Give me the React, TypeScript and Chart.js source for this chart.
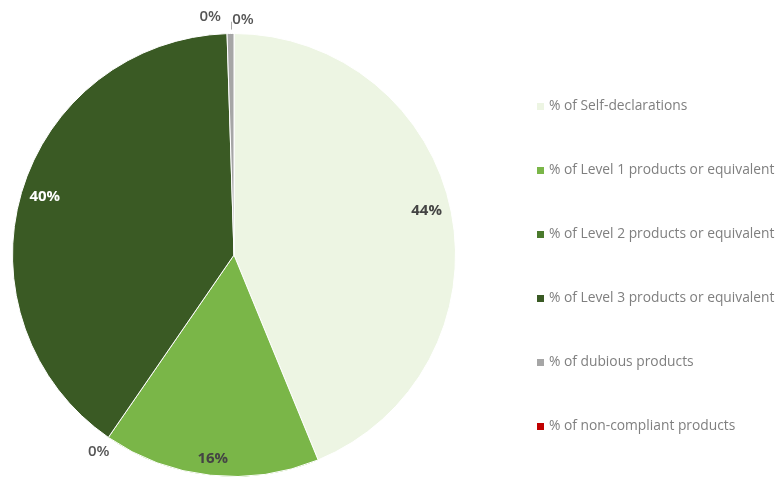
import React, { useEffect, useRef } from "react";
import { Chart, registerables } from "chart.js";

Chart.register(...registerables);

const categories = [
  "% of Self-declarations",
  "% of Level 1 products or equivalent",
  "% of Level 2 products or equivalent",
  "% of Level 3 products or equivalent",
  "% of dubious products",
  "% of non-compliant products",
];
const shares = [43.8, 15.8, 0, 39.9, 0.499, 0];
const sliceColors = ["#edf5e3", "#7ab648", "#4a7a2c", "#3a5a24", "#a6a6a6", "#c00000"];
const labelColors = ["#444444", "#444444", "#555555", "#ffffff", "#555555", "#555555"];
const labelShiftX = [-3, 0, 0, 2, -20, 9];
const labelShiftY = [-6, 6, 0, -2, 0, 3];

const FONT = "'Open Sans', Lato, sans-serif";

const pieLabels = {
  id: "pieLabels",
  afterDatasetsDraw(chart: any) {
    const ctx = chart.ctx;
    const meta = chart.getDatasetMeta(0);
    ctx.save();
    ctx.textAlign = "center";
    ctx.textBaseline = "middle";
    meta.data.forEach((arc: any, i: number) => {
      const p = arc.getProps(["x", "y", "startAngle", "endAngle", "outerRadius"], true);
      const mid = (p.startAngle + p.endAngle) / 2;
      const v = shares[i];
      const inside = v >= 5;
      const dist = inside ? p.outerRadius * 0.9 : p.outerRadius + 17;
      const lx = p.x + Math.cos(mid) * dist + labelShiftX[i];
      const ly = p.y + Math.sin(mid) * dist + labelShiftY[i];
      if (i === 5) {
        const prev = meta.data[4].getProps(["startAngle", "endAngle"], true);
        const pm = (prev.startAngle + prev.endAngle) / 2;
        const ex = Math.round(p.x + Math.cos(pm) * p.outerRadius) + 0.5;
        const ey = p.y + Math.sin(pm) * p.outerRadius;
        ctx.strokeStyle = "#aaaaaa";
        ctx.lineWidth = 1;
        ctx.beginPath();
        ctx.moveTo(ex, ey - 4);
        ctx.lineTo(ex, ly + 2.5);
        ctx.lineTo(lx - 12, ly + 2.5);
        ctx.stroke();
      }
      ctx.font = inside ? `bold 15px ${FONT}` : `600 15px ${FONT}`;
      ctx.fillStyle = labelColors[i];
      ctx.fillText(Math.round(v) + "%", lx, ly);
    });
    ctx.restore();
  },
};

const sideLegend = {
  id: "sideLegend",
  afterDraw(chart: any) {
    const ctx = chart.ctx;
    const area = chart.chartArea;
    const x0 = area.right + 81;
    ctx.save();
    ctx.font = `13.8px ${FONT}`;
    ctx.textAlign = "left";
    ctx.textBaseline = "middle";
    chart.data.labels.forEach((lab: string, i: number) => {
      const y = 106 + i * 64;
      ctx.fillStyle = chart.data.datasets[0].backgroundColor[i];
      ctx.fillRect(x0, y - 3, 7, 7);
      ctx.fillStyle = "#7f7f7f";
      ctx.fillText(lab, x0 + 12, y);
    });
    ctx.restore();
  },
};

export default function App() {
  const ref = useRef<HTMLCanvasElement | null>(null);
  useEffect(() => {
    if (!ref.current) return;
    const chart = new Chart(ref.current, {
      type: "pie",
      data: {
        labels: categories,
        datasets: [
          {
            data: shares,
            backgroundColor: sliceColors,
            borderColor: "#ffffff",
            borderWidth: 1,
          },
        ],
      },
      options: {
        animation: false,
        responsive: false,
        devicePixelRatio: 1,
        layout: { padding: { top: 33, bottom: 35, left: 12, right: 323 } },
        plugins: {
          legend: { display: false },
          tooltip: { enabled: false },
        },
      },
      plugins: [pieLabels, sideLegend],
    });
    return () => chart.destroy();
  }, []);
  return (
    <div style={{ position: "fixed", left: 0, top: 0, width: 779, height: 477, overflow: "hidden", background: "#fff" }}>
      <canvas ref={ref} width={779} height={512} style={{ display: "block", width: 779, height: 512 }} />
    </div>
  );
}
